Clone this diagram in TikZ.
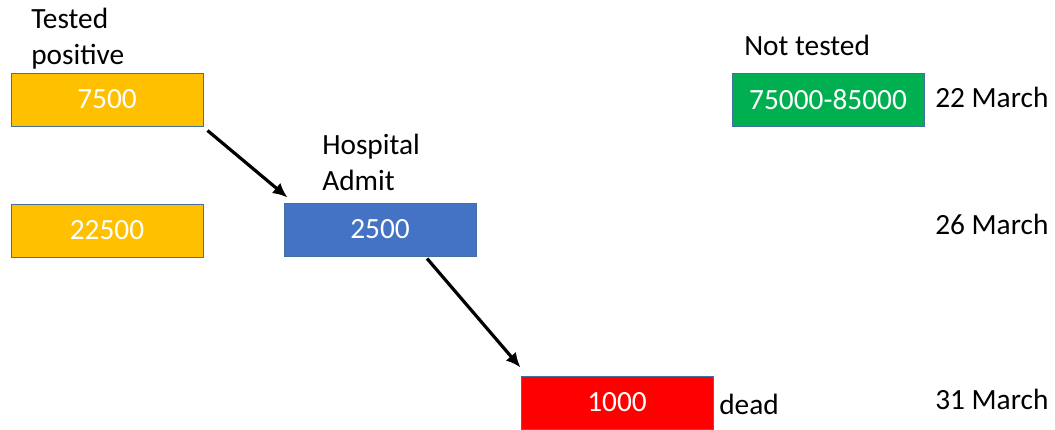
\documentclass[tikz,border=0pt]{standalone}
\usepackage{fontspec}
\setmainfont{Carlito}
\usetikzlibrary{arrows.meta}
\definecolor{boxline}{HTML}{41719C}
\definecolor{posgold}{HTML}{FFC000}
\definecolor{hospblue}{HTML}{4472C4}
\definecolor{untestgreen}{HTML}{00B050}
\definecolor{deadred}{HTML}{FF0000}
\begin{document}
\begin{tikzpicture}[x=0.75pt,y=-0.75pt,
    font=\fontsize{22}{27}\selectfont,
    countbox/.style={draw=boxline, line width=0.75pt, minimum width=144pt, minimum height=39.75pt, inner sep=0pt, text=white},
    lbl/.style={inner sep=0pt, align=left},
    arr/.style={-{Latex[length=11pt,width=10pt]}, line width=2.4pt}]
            \useasboundingbox (0,0) rectangle (1055,429);

            \node[countbox, fill=posgold] (pos22) at (107,99.5) {7500};
            \node[countbox, fill=posgold] (pos26) at (107,230.5) {22500};
            \node[countbox, fill=hospblue] (hosp) at (380,229.5) {2500};
            \node[countbox, fill=deadred] (dead) at (617,402.5) {1000};
            \node[countbox, fill=untestgreen] (untested) at (828,99.5) {75000-85000};

            \node[lbl, anchor=base west] (postitle) at (31,28) {Tested};
            \node[lbl, anchor=base west] (postitleb) at (31,64) {positive};
            \node[lbl, anchor=base west] (hosptitle) at (322,154) {Hospital};
            \node[lbl, anchor=base west] (hosptitleb) at (322,190) {Admit};
            \node[lbl, anchor=base west] (untitle) at (744,55) {Not tested};
            \node[lbl, anchor=base west] (deadtitle) at (719,414) {dead};

            \node[lbl, anchor=base west] (d22) at (935,107) {22 March};
            \node[lbl, anchor=base west] (d26) at (935,234) {26 March};
            \node[lbl, anchor=base west] (d31) at (935,409) {31 March};

            \draw[arr] ([shift={(4,4)}]pos22.south east) -- ([shift={(4,-5)}]hosp.north west);
            \draw[arr] ([shift={(47,2)}]hosp.south) -- ([shift={(0,-8)}]dead.north west);
        \end{tikzpicture}
\end{document}
